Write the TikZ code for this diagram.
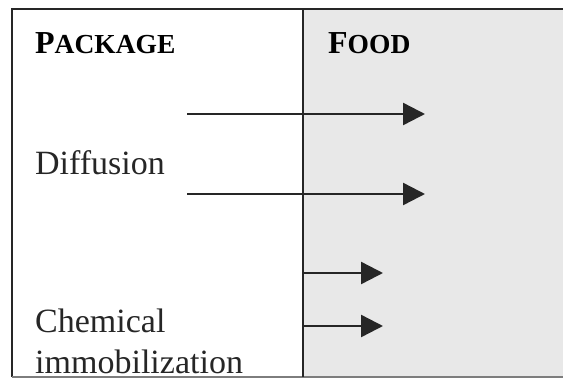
\documentclass[tikz,border=0pt]{standalone}
\usepackage{fontspec}
\setmainfont{Liberation Serif}
\usepackage{tikz}
\usetikzlibrary{arrows.meta,positioning}
\definecolor{foodGray}{HTML}{E8E8E8}
\definecolor{lineGray}{HTML}{262626}
\newcommand{\capsword}[2]{{\fontsize{32}{38}\selectfont #1}{\fontsize{27.5}{33}\selectfont #2}}

\begin{document}
\begin{tikzpicture}[
  x=1pt, y=-1pt,
  every node/.style={inner sep=0pt, anchor=base west},
  head/.style={font=\bfseries, text=black},
  label/.style={font=\fontsize{34}{41}\selectfont, align=left, text=black!85},
  arr/.style={-{Triangle[length=22pt,width=22pt]}, line width=2.4pt, lineGray},
  frame/.style={lineGray, line width=2.2pt},
]
\useasboundingbox (0,0) rectangle (563,378);

% Food side
\fill[foodGray] (303,9) rectangle (570,377);

% Headings
\node[head] (pack) at (35,53) {\capsword{P}{ACKAGE}};
\node[head] (food) at (328,53) {\capsword{F}{OOD}};

% Labels (base of a two-line node is its last line)
\node[label] (diff) at (35,174) {Diffusion};
\node[label] (chem) at (35,373) {Chemical\\immobilization};

% Arrow end points
\coordinate (d1s) at (187,114);
\coordinate (d1e) at (425,114);
\coordinate (d2s) at (187,194);
\coordinate (d2e) at (425,194);
\coordinate (c1s) at (303,273);
\coordinate (c1e) at (383,273);
\coordinate (c2s) at (303,326);
\coordinate (c2e) at (383,326);

% Arrows
\foreach \a/\b in {d1s/d1e, d2s/d2e, c1s/c1e, c2s/c2e} {
  \draw[arr] (\a) -- (\b);
}

% Frame and divider
\draw[frame] (12,377) -- (12,9) -- (570,9);
\draw[frame, lineGray!60] (12,377) -- (570,377);
\draw[frame] (303,9) -- (303,377);

\end{tikzpicture}
\end{document}
